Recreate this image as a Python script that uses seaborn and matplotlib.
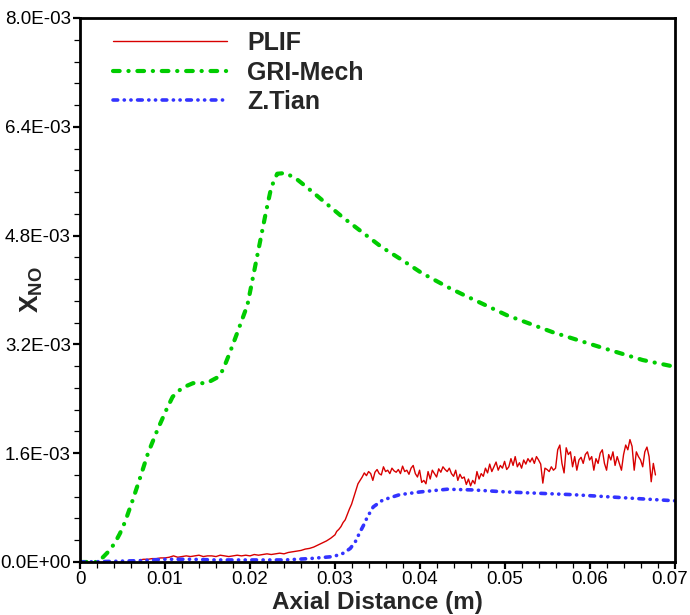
import numpy as np
import pandas as pd
import matplotlib
matplotlib.use("Agg")
import matplotlib.pyplot as plt
import matplotlib.transforms as mtransforms
from matplotlib.ticker import FixedLocator, MultipleLocator
import seaborn as sns

# ---- data (mole fraction values in units of 1e-3) ----
gri_x = [0.0, 0.0015, 0.0020, 0.0027, 0.0034, 0.0041, 0.0047, 0.0053, 0.0062,
         0.0071, 0.0080, 0.0091, 0.0102, 0.0109, 0.0120, 0.0133, 0.0149, 0.0161,
         0.0168, 0.0176, 0.0185, 0.0197, 0.0208, 0.0219, 0.0225, 0.0232, 0.0242,
         0.0255, 0.0267, 0.0288, 0.0309, 0.0332, 0.0355, 0.0379, 0.0402, 0.0433,
         0.0451, 0.0502, 0.0556, 0.0612, 0.0662, 0.0700]
gri_y = [0.0, 0.0, 0.0, 0.07, 0.16, 0.28, 0.42, 0.59, 0.91,
         1.25, 1.60, 1.94, 2.25, 2.43, 2.56, 2.63, 2.63, 2.71,
         2.82, 3.07, 3.37, 3.78, 4.47, 5.16, 5.51, 5.71, 5.72,
         5.63, 5.51, 5.29, 5.07, 4.85, 4.63, 4.44, 4.25, 4.04,
         3.93, 3.63, 3.38, 3.16, 2.97, 2.87]

tian_x = [0.0, 0.004, 0.007, 0.010, 0.013, 0.016, 0.020, 0.024, 0.027, 0.0298,
          0.0310, 0.0318, 0.0324, 0.0329, 0.0334, 0.0338, 0.0345, 0.0356, 0.0376,
          0.0400, 0.0432, 0.0462, 0.0502, 0.0541, 0.0580, 0.0620, 0.0659, 0.0700]
tian_y = [0.0, 0.01, 0.02, 0.04, 0.04, 0.03, 0.03, 0.03, 0.05, 0.08,
          0.13, 0.20, 0.30, 0.43, 0.55, 0.66, 0.81, 0.91, 0.99,
          1.03, 1.07, 1.06, 1.03, 1.01, 0.99, 0.96, 0.93, 0.90]

# PLIF measurement: low-signal region (0.0070 .. 0.0300 m)
plif_low_range = (0.0070, 0.0300)
plif_low_y = [0.03, 0.04, 0.04, 0.05, 0.05, 0.06, 0.06, 0.07, 0.09, 0.07,
              0.08, 0.09, 0.08, 0.09, 0.10, 0.08, 0.09, 0.09, 0.08, 0.10,
              0.09, 0.08, 0.09, 0.10, 0.09, 0.10, 0.09, 0.11, 0.10, 0.11,
              0.12, 0.11, 0.12, 0.13, 0.12, 0.14, 0.15, 0.16, 0.17, 0.19,
              0.20, 0.22, 0.25, 0.28, 0.31, 0.35, 0.40]
# PLIF measurement: flame region (0.0302 .. 0.0677 m)
plif_high_range = (0.0302, 0.0677)
plif_high_y = [0.45, 0.48, 0.52, 0.58, 0.62, 0.70, 0.78, 0.85, 0.95, 1.05,
               1.15, 1.20, 1.25, 1.31, 1.27, 1.33, 1.30, 1.20, 1.32, 1.36,
               1.30, 1.28, 1.40, 1.33, 1.35, 1.30, 1.38, 1.34, 1.32, 1.36,
               1.30, 1.41, 1.33, 1.35, 1.29, 1.38, 1.42, 1.30, 1.25, 1.35,
               1.17, 1.20, 1.15, 1.33, 1.22, 1.35, 1.30, 1.25, 1.37, 1.32,
               1.40, 1.36, 1.33, 1.38, 1.30, 1.26, 1.35, 1.20, 1.29, 1.23,
               1.25, 1.14, 1.22, 1.12, 1.20, 1.15, 1.33, 1.22, 1.30, 1.26,
               1.38, 1.31, 1.44, 1.33, 1.40, 1.47, 1.35, 1.42, 1.38, 1.48,
               1.36, 1.40, 1.52, 1.42, 1.55, 1.40, 1.46, 1.38, 1.50, 1.44,
               1.52, 1.47, 1.53, 1.45, 1.55, 1.50, 1.44, 1.16, 1.38, 1.36,
               1.33, 1.40, 1.35, 1.38, 1.65, 1.72, 1.45, 1.31, 1.68, 1.58,
               1.62, 1.40, 1.55, 1.35, 1.50, 1.54, 1.45, 1.58, 1.62, 1.50,
               1.55, 1.35, 1.52, 1.45, 1.60, 1.65, 1.45, 1.35, 1.58, 1.50,
               1.62, 1.42, 1.55, 1.45, 1.35, 1.58, 1.72, 1.65, 1.80, 1.70,
               1.35, 1.62, 1.55, 1.50, 1.40, 1.62, 1.69, 1.55, 1.18, 1.45,
               1.28]

x_ticks = [0.0, 0.01, 0.02, 0.03, 0.04, 0.05, 0.06, 0.07]
x_tick_labels = ["0", "0.01", "0.02", "0.03", "0.04", "0.05", "0.06", "0.07"]
y_ticks = [0.0, 1.6e-3, 3.2e-3, 4.8e-3, 6.4e-3, 8.0e-3]
y_tick_labels = ["0.0E+00", "1.6E-03", "3.2E-03", "4.8E-03", "6.4E-03", "8.0E-03"]

# ---- assemble tables ----
scale = 1e-3
plif_x = np.concatenate([np.linspace(*plif_low_range, len(plif_low_y)),
                         np.linspace(*plif_high_range, len(plif_high_y))])
plif = pd.DataFrame({"x": plif_x,
                     "y": np.array(plif_low_y + plif_high_y) * scale})
gri = pd.DataFrame({"x": gri_x, "y": np.array(gri_y) * scale})
tian = pd.DataFrame({"x": tian_x, "y": np.array(tian_y) * scale})

# ---- style ----
sns.set_theme(style="ticks")
plt.rcParams["font.family"] = ["Liberation Sans", "DejaVu Sans"]
plt.rcParams["mathtext.fontset"] = "custom"
plt.rcParams["mathtext.rm"] = "Liberation Sans"
plt.rcParams["mathtext.bf"] = "Liberation Sans:bold"

fig = plt.figure(figsize=(6.9, 6.15), dpi=100)
ax = fig.add_axes([80 / 690, 1 - 562 / 615, 595 / 690, 544 / 615])

sns.lineplot(data=plif, x="x", y="y", ax=ax, sort=False, estimator=None,
             color="#d80000", linewidth=1.0, label="PLIF")
sns.lineplot(data=gri, x="x", y="y", ax=ax, sort=False, estimator=None,
             color="#00cc00", linewidth=3.0, label="GRI-Mech",
             linestyle=(0, (1.6, 2.1, 0.05, 2.1)), dash_capstyle="round")
sns.lineplot(data=tian, x="x", y="y", ax=ax, sort=False, estimator=None,
             color="#3333ff", linewidth=2.6, label="Z.Tian",
             linestyle=(0, (1.3, 1.8, 0.05, 1.8, 0.05, 1.8)), dash_capstyle="round")

ax.set_xlim(0, 0.07)
ax.set_ylim(0, 8.0e-3)
ax.xaxis.set_major_locator(FixedLocator(x_ticks))
ax.set_xticklabels(x_tick_labels)
ax.xaxis.set_minor_locator(MultipleLocator(0.002))
ax.yaxis.set_major_locator(FixedLocator(y_ticks))
ax.set_yticklabels(y_tick_labels)
ax.yaxis.set_minor_locator(MultipleLocator(0.32e-3))

for side in ["left", "right", "top", "bottom"]:
    ax.spines[side].set_visible(True)
    ax.spines[side].set_color("black")
    ax.spines[side].set_linewidth(2.0)

ax.tick_params(axis="both", which="major", direction="out", length=5,
               width=1.6, color="black", labelsize=13.5, labelcolor="black", pad=1.5)
ax.tick_params(axis="both", which="minor", direction="out", length=4.5,
               width=0.9, color="black")
ax.tick_params(top=False, right=False, which="both")

# keep the last x tick label inside the figure edge
last_label = ax.get_xticklabels()[-1]
last_label.set_transform(last_label.get_transform()
                         + mtransforms.ScaledTranslation(-4 / 72, 0, fig.dpi_scale_trans))

ax.set_xlabel("Axial Distance (m)", fontsize=17.5, fontweight="bold")
ax.xaxis.set_label_coords(0.5, -0.053)
ax.xaxis.label.set_va("top")
ax.set_ylabel(r"$\mathbf{X}_{\mathbf{NO}}$", fontsize=19)
ax.yaxis.set_label_coords(-0.058, 0.5)

leg = ax.legend(loc="upper left", bbox_to_anchor=(33 / 595, 1 - 13 / 544),
                frameon=False, borderpad=0, borderaxespad=0,
                handlelength=4.56, handletextpad=0.8, labelspacing=0.22,
                prop={"weight": "bold", "size": 18})

fig.savefig("out.png", dpi=100)
